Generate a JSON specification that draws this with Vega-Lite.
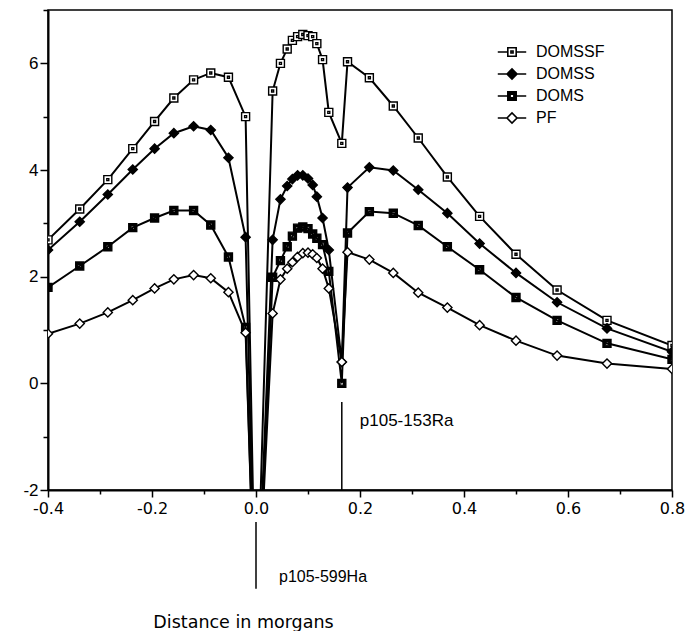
{
  "$schema": "https://vega.github.io/schema/vega-lite/v6.json",
  "width": 624,
  "height": 480,
  "autosize": {"type": "none"},
  "padding": {"left": 48, "top": 10, "right": 18, "bottom": 141},
  "background": "white",
  "config": {
    "view": {"stroke": "black", "strokeWidth": 1.5},
    "font": "Liberation Sans",
    "legend": {
      "orient": "none", "legendX": 456, "legendY": 34, "padding": 0,
      "symbolSize": 70, "labelFontSize": 16, "labelFont": "Liberation Sans", "labelColor": "black",
      "labelOffset": 16, "rowPadding": 5, "symbolStrokeColor": "black", "symbolStrokeWidth": 1.6
    }
  },
  "datasets": {
    "lod": [
      {"s": "DOMSSF", "x": -0.4, "y": 2.69}, {"s": "DOMSSF", "x": -0.339, "y": 3.27}, {"s": "DOMSSF", "x": -0.285, "y": 3.82},
      {"s": "DOMSSF", "x": -0.237, "y": 4.4}, {"s": "DOMSSF", "x": -0.195, "y": 4.91}, {"s": "DOMSSF", "x": -0.158, "y": 5.35},
      {"s": "DOMSSF", "x": -0.12, "y": 5.69}, {"s": "DOMSSF", "x": -0.087, "y": 5.82}, {"s": "DOMSSF", "x": -0.053, "y": 5.74},
      {"s": "DOMSSF", "x": -0.02, "y": 5.0}, {"s": "DOMSSF", "x": 0, "y": -5},
      {"s": "DOMSSF", "x": 0.032, "y": 5.48}, {"s": "DOMSSF", "x": 0.047, "y": 6.0}, {"s": "DOMSSF", "x": 0.06, "y": 6.27},
      {"s": "DOMSSF", "x": 0.07, "y": 6.43}, {"s": "DOMSSF", "x": 0.08, "y": 6.5}, {"s": "DOMSSF", "x": 0.09, "y": 6.54},
      {"s": "DOMSSF", "x": 0.1, "y": 6.52}, {"s": "DOMSSF", "x": 0.109, "y": 6.5}, {"s": "DOMSSF", "x": 0.117, "y": 6.37},
      {"s": "DOMSSF", "x": 0.128, "y": 6.07}, {"s": "DOMSSF", "x": 0.14, "y": 5.08}, {"s": "DOMSSF", "x": 0.165, "y": 4.5},
      {"s": "DOMSSF", "x": 0.176, "y": 6.03}, {"s": "DOMSSF", "x": 0.218, "y": 5.73}, {"s": "DOMSSF", "x": 0.264, "y": 5.2},
      {"s": "DOMSSF", "x": 0.312, "y": 4.6}, {"s": "DOMSSF", "x": 0.368, "y": 3.87}, {"s": "DOMSSF", "x": 0.43, "y": 3.13},
      {"s": "DOMSSF", "x": 0.5, "y": 2.42}, {"s": "DOMSSF", "x": 0.579, "y": 1.75}, {"s": "DOMSSF", "x": 0.675, "y": 1.18},
      {"s": "DOMSSF", "x": 0.8, "y": 0.71},

      {"s": "DOMSS", "x": -0.4, "y": 2.5}, {"s": "DOMSS", "x": -0.339, "y": 3.03}, {"s": "DOMSS", "x": -0.285, "y": 3.54},
      {"s": "DOMSS", "x": -0.237, "y": 4.01}, {"s": "DOMSS", "x": -0.195, "y": 4.4}, {"s": "DOMSS", "x": -0.158, "y": 4.69},
      {"s": "DOMSS", "x": -0.12, "y": 4.82}, {"s": "DOMSS", "x": -0.087, "y": 4.75}, {"s": "DOMSS", "x": -0.053, "y": 4.23},
      {"s": "DOMSS", "x": -0.02, "y": 2.74}, {"s": "DOMSS", "x": 0, "y": -5},
      {"s": "DOMSS", "x": 0.032, "y": 2.69}, {"s": "DOMSS", "x": 0.047, "y": 3.45}, {"s": "DOMSS", "x": 0.06, "y": 3.7},
      {"s": "DOMSS", "x": 0.07, "y": 3.83}, {"s": "DOMSS", "x": 0.08, "y": 3.9}, {"s": "DOMSS", "x": 0.09, "y": 3.9},
      {"s": "DOMSS", "x": 0.1, "y": 3.84}, {"s": "DOMSS", "x": 0.109, "y": 3.72}, {"s": "DOMSS", "x": 0.117, "y": 3.5},
      {"s": "DOMSS", "x": 0.128, "y": 3.1}, {"s": "DOMSS", "x": 0.14, "y": 2.5}, {"s": "DOMSS", "x": 0.165, "y": 0.4},
      {"s": "DOMSS", "x": 0.176, "y": 3.67}, {"s": "DOMSS", "x": 0.218, "y": 4.05}, {"s": "DOMSS", "x": 0.264, "y": 3.99},
      {"s": "DOMSS", "x": 0.312, "y": 3.63}, {"s": "DOMSS", "x": 0.368, "y": 3.19}, {"s": "DOMSS", "x": 0.43, "y": 2.62},
      {"s": "DOMSS", "x": 0.5, "y": 2.07}, {"s": "DOMSS", "x": 0.579, "y": 1.52}, {"s": "DOMSS", "x": 0.675, "y": 1.03},
      {"s": "DOMSS", "x": 0.8, "y": 0.59},

      {"s": "DOMS", "x": -0.4, "y": 1.8}, {"s": "DOMS", "x": -0.339, "y": 2.2}, {"s": "DOMS", "x": -0.285, "y": 2.56},
      {"s": "DOMS", "x": -0.237, "y": 2.92}, {"s": "DOMS", "x": -0.195, "y": 3.1}, {"s": "DOMS", "x": -0.158, "y": 3.24},
      {"s": "DOMS", "x": -0.12, "y": 3.24}, {"s": "DOMS", "x": -0.087, "y": 2.97}, {"s": "DOMS", "x": -0.053, "y": 2.37},
      {"s": "DOMS", "x": -0.02, "y": 1.05}, {"s": "DOMS", "x": 0, "y": -5},
      {"s": "DOMS", "x": 0.032, "y": 1.99}, {"s": "DOMS", "x": 0.047, "y": 2.3}, {"s": "DOMS", "x": 0.06, "y": 2.56},
      {"s": "DOMS", "x": 0.07, "y": 2.76}, {"s": "DOMS", "x": 0.08, "y": 2.91}, {"s": "DOMS", "x": 0.09, "y": 2.93},
      {"s": "DOMS", "x": 0.1, "y": 2.9}, {"s": "DOMS", "x": 0.109, "y": 2.8}, {"s": "DOMS", "x": 0.117, "y": 2.72},
      {"s": "DOMS", "x": 0.128, "y": 2.6}, {"s": "DOMS", "x": 0.14, "y": 2.1}, {"s": "DOMS", "x": 0.165, "y": 0.0},
      {"s": "DOMS", "x": 0.176, "y": 2.82}, {"s": "DOMS", "x": 0.218, "y": 3.22}, {"s": "DOMS", "x": 0.264, "y": 3.19},
      {"s": "DOMS", "x": 0.312, "y": 2.96}, {"s": "DOMS", "x": 0.368, "y": 2.56}, {"s": "DOMS", "x": 0.43, "y": 2.13},
      {"s": "DOMS", "x": 0.5, "y": 1.61}, {"s": "DOMS", "x": 0.579, "y": 1.18}, {"s": "DOMS", "x": 0.675, "y": 0.75},
      {"s": "DOMS", "x": 0.8, "y": 0.45},

      {"s": "PF", "x": -0.4, "y": 0.93}, {"s": "PF", "x": -0.339, "y": 1.12}, {"s": "PF", "x": -0.285, "y": 1.33},
      {"s": "PF", "x": -0.237, "y": 1.56}, {"s": "PF", "x": -0.195, "y": 1.78}, {"s": "PF", "x": -0.158, "y": 1.95},
      {"s": "PF", "x": -0.12, "y": 2.03}, {"s": "PF", "x": -0.087, "y": 1.97}, {"s": "PF", "x": -0.053, "y": 1.71},
      {"s": "PF", "x": -0.02, "y": 0.95}, {"s": "PF", "x": 0, "y": -5},
      {"s": "PF", "x": 0.032, "y": 1.31}, {"s": "PF", "x": 0.047, "y": 1.95}, {"s": "PF", "x": 0.06, "y": 2.15},
      {"s": "PF", "x": 0.07, "y": 2.27}, {"s": "PF", "x": 0.08, "y": 2.37}, {"s": "PF", "x": 0.09, "y": 2.44},
      {"s": "PF", "x": 0.1, "y": 2.45}, {"s": "PF", "x": 0.109, "y": 2.42}, {"s": "PF", "x": 0.117, "y": 2.35},
      {"s": "PF", "x": 0.128, "y": 2.15}, {"s": "PF", "x": 0.14, "y": 1.78}, {"s": "PF", "x": 0.165, "y": 0.4},
      {"s": "PF", "x": 0.176, "y": 2.46}, {"s": "PF", "x": 0.218, "y": 2.32}, {"s": "PF", "x": 0.264, "y": 2.07},
      {"s": "PF", "x": 0.312, "y": 1.7}, {"s": "PF", "x": 0.368, "y": 1.42}, {"s": "PF", "x": 0.43, "y": 1.09},
      {"s": "PF", "x": 0.5, "y": 0.8}, {"s": "PF", "x": 0.579, "y": 0.52}, {"s": "PF", "x": 0.675, "y": 0.37},
      {"s": "PF", "x": 0.8, "y": 0.27}
    ]
  },
  "layer": [
    {
      "data": {"name": "lod"},
      "mark": {"type": "line", "color": "black", "strokeWidth": 2, "clip": true},
      "encoding": {
        "x": {
          "field": "x", "type": "quantitative",
          "scale": {"domain": [-0.4, 0.8], "nice": false, "zero": false},
          "axis": {
            "title": "Distance in morgans",
            "values": [-0.4, -0.3, -0.2, -0.1, 0, 0.1, 0.2, 0.3, 0.4, 0.5, 0.6, 0.7, 0.8],
            "labelExpr": "abs(round(datum.value*10)) % 2 == 0 ? replace(format(datum.value, '.1f'), '\u2212', '-') : ''",
            "tickSize": {"condition": {"test": "abs(round(datum.value*10)) % 2 == 0", "value": 7}, "value": 4},
            "labelOverlap": false, "labelFlush": false,
            "labelFont": "DejaVu Sans", "labelFontSize": 16, "labelColor": "black", "labelPadding": 3,
            "domainColor": "black", "domainWidth": 2, "tickColor": "black", "tickWidth": 1.5,
            "grid": false,
            "titleFont": "DejaVu Sans", "titleFontSize": 17.5, "titleFontWeight": "normal", "titleColor": "black",
            "titleX": 195, "titleY": 137, "titleBaseline": "alphabetic", "titleAlign": "center", "titleAnchor": null
          }
        },
        "y": {
          "field": "y", "type": "quantitative",
          "scale": {"domain": [-2, 7], "nice": false, "zero": false},
          "axis": {
            "title": null,
            "values": [-2, -1.5, -1, -0.5, 0, 0.5, 1, 1.5, 2, 2.5, 3, 3.5, 4, 4.5, 5, 5.5, 6, 6.5, 7],
            "labelExpr": "datum.value % 2 == 0 ? replace(format(datum.value, 'd'), '\u2212', '-') : ''",
            "tickSize": {"condition": {"test": "datum.value % 2 == 0", "value": 8}, "value": 5},
            "labelOverlap": false, "labelFlush": false,
            "labelFont": "Liberation Sans", "labelFontSize": 17, "labelColor": "black", "labelPadding": 2,
            "domainColor": "black", "domainWidth": 2, "tickColor": "black", "tickWidth": 1.5,
            "grid": false
          }
        },
        "detail": {"field": "s", "type": "nominal"}
      }
    },
    {
      "data": {"name": "lod"},
      "transform": [{"filter": "datum.s == 'DOMSSF'"}],
      "mark": {"type": "point", "filled": true, "fill": "white", "shape": "M-1,-1H1V1H-1Z M-0.25,-0.25H0.25V0.25H-0.25Z", "size": 64, "stroke": "black", "strokeWidth": 1.4, "opacity": 1, "clip": true},
      "encoding": {
        "x": {"field": "x", "type": "quantitative", "scale": {"domain": [-0.4, 0.8], "nice": false, "zero": false}},
        "y": {"field": "y", "type": "quantitative", "scale": {"domain": [-2, 7], "nice": false, "zero": false}}
      }
    },
    {
      "data": {"name": "lod"},
      "transform": [{"filter": "datum.s == 'DOMSS'"}],
      "mark": {"type": "point", "filled": true, "fill": "black", "shape": "M-1.15,0L0,-1.15L1.15,0L0,1.15Z", "size": 64, "stroke": "black", "strokeWidth": 1.4, "opacity": 1, "clip": true},
      "encoding": {
        "x": {"field": "x", "type": "quantitative", "scale": {"domain": [-0.4, 0.8], "nice": false, "zero": false}},
        "y": {"field": "y", "type": "quantitative", "scale": {"domain": [-2, 7], "nice": false, "zero": false}}
      }
    },
    {
      "data": {"name": "lod"},
      "transform": [{"filter": "datum.s == 'DOMS'"}],
      "mark": {"type": "point", "filled": true, "fill": "black", "shape": "M-1,-1H1V1H-1Z M-0.45,-0.45V0.45H0.45V-0.45Z", "size": 64, "stroke": "black", "strokeWidth": 1.4, "opacity": 1, "clip": true},
      "encoding": {
        "x": {"field": "x", "type": "quantitative", "scale": {"domain": [-0.4, 0.8], "nice": false, "zero": false}},
        "y": {"field": "y", "type": "quantitative", "scale": {"domain": [-2, 7], "nice": false, "zero": false}}
      }
    },
    {
      "data": {"name": "lod"},
      "transform": [{"filter": "datum.s == 'PF'"}],
      "mark": {"type": "point", "filled": true, "fill": "white", "shape": "M-1.15,0L0,-1.15L1.15,0L0,1.15Z", "size": 64, "stroke": "black", "strokeWidth": 1.4, "opacity": 1, "clip": true},
      "encoding": {
        "x": {"field": "x", "type": "quantitative", "scale": {"domain": [-0.4, 0.8], "nice": false, "zero": false}},
        "y": {"field": "y", "type": "quantitative", "scale": {"domain": [-2, 7], "nice": false, "zero": false}}
      }
    },
    {
      "data": {"name": "lod"},
      "transform": [{"filter": "datum.x == 0"}],
      "mark": {"type": "point", "filled": false, "size": 64, "strokeWidth": 1.5, "opacity": 1, "clip": true},
      "encoding": {
        "x": {"field": "x", "type": "quantitative", "scale": {"domain": [-0.4, 0.8], "nice": false, "zero": false}},
        "y": {"field": "y", "type": "quantitative", "scale": {"domain": [-2, 7], "nice": false, "zero": false}},
        "shape": {
          "field": "s", "type": "nominal", "title": null,
          "scale": {
            "domain": ["DOMSSF", "DOMSS", "DOMS", "PF"],
            "range": [
              "M-3.4,0H-1M1,0H3.4M-1,-1H1V1H-1Z M-0.25,-0.25H0.25V0.25H-0.25Z",
              "M-3.4,0H-1.2M1.2,0H3.4M-1.2,0L0,-1.2L1.2,0L0,1.2Z",
              "M-3.4,0H-1M1,0H3.4M-1,-1H1V1H-1Z M-0.45,-0.45V0.45H0.45V-0.45Z",
              "M-3.4,0H-1.2M1.2,0H3.4M-1.2,0L0,-1.2L1.2,0L0,1.2Z"
            ]
          }
        },
        "fill": {
          "field": "s", "type": "nominal", "title": null,
          "scale": {"domain": ["DOMSSF", "DOMSS", "DOMS", "PF"], "range": ["white", "black", "black", "white"]}
        },
        "stroke": {
          "field": "s", "type": "nominal", "title": null,
          "scale": {"domain": ["DOMSSF", "DOMSS", "DOMS", "PF"], "range": ["black", "black", "black", "black"]}
        }
      }
    },
    {
      "data": {"values": [{"marker": "p105-153Ra", "pos": 0.165}]},
      "layer": [
        {
          "mark": {"type": "rule", "color": "black", "strokeWidth": 1.5},
          "encoding": {
            "x": {"field": "pos", "type": "quantitative"},
            "y": {"datum": -0.35},
            "y2": {"datum": -2}
          }
        },
        {
          "mark": {"type": "text", "align": "left", "baseline": "middle", "dx": 18, "font": "Liberation Sans", "fontSize": 17, "color": "black"},
          "encoding": {
            "x": {"field": "pos", "type": "quantitative"},
            "y": {"datum": -0.7},
            "text": {"field": "marker"}
          }
        }
      ]
    },
    {
      "data": {"values": [{"marker": "p105-599Ha", "pos": 0.0}]},
      "layer": [
        {
          "mark": {"type": "rule", "color": "black", "strokeWidth": 1.5, "clip": false},
          "encoding": {
            "x": {"field": "pos", "type": "quantitative"},
            "y": {"datum": -2.6},
            "y2": {"datum": -3.85}
          }
        },
        {
          "mark": {"type": "text", "align": "left", "baseline": "alphabetic", "dx": 23, "font": "Liberation Sans", "fontSize": 16, "color": "black", "clip": false},
          "encoding": {
            "x": {"field": "pos", "type": "quantitative"},
            "y": {"datum": -3.72},
            "text": {"field": "marker"}
          }
        }
      ]
    }
  ]
}
